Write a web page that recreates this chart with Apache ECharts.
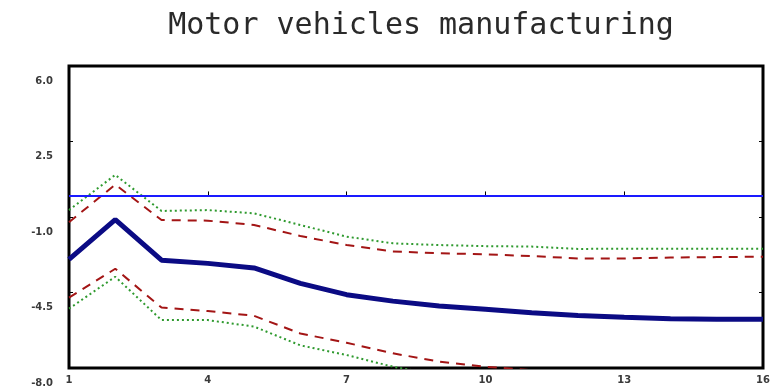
<!DOCTYPE html>
<html>
<head>
<meta charset="utf-8">
<script src="https://cdn.jsdelivr.net/npm/echarts@6/dist/echarts.min.js"></script>
<style>html,body{margin:0;padding:0;background:#fff}#c{width:773px;height:391px}</style>
</head>
<body>
<div id="c"></div>
<script>
const periods = ['1','2','3','4','5','6','7','8','9','10','11','12','13','14','15','16'];
const response = [-2.96,-1.12,-3.0,-3.15,-3.36,-4.08,-4.6,-4.9,-5.13,-5.28,-5.44,-5.57,-5.65,-5.72,-5.74,-5.74];
const upperRed = [-1.24,0.5,-1.14,-1.17,-1.37,-1.88,-2.3,-2.6,-2.68,-2.73,-2.81,-2.92,-2.92,-2.88,-2.86,-2.84];
const lowerRed = [-4.74,-3.4,-5.2,-5.36,-5.58,-6.4,-6.83,-7.32,-7.7,-7.94,-8.1,-8.25,-8.4,-8.6,-8.65,-8.66];
const upperGreen = [-0.68,0.95,-0.72,-0.68,-0.83,-1.37,-1.91,-2.22,-2.3,-2.35,-2.37,-2.48,-2.47,-2.47,-2.47,-2.47];
const lowerGreen = [-5.25,-3.77,-5.78,-5.78,-6.08,-6.95,-7.4,-7.94,-8.33,-8.59,-8.91,-9.06,-9.24,-9.44,-9.44,-9.44];
const yTicks = [6.0, 2.5, -1.0, -4.5, -8.0];
const titleText = 'Motor vehicles manufacturing';

const chart = echarts.init(document.getElementById('c'), null, {renderer: 'canvas'});
const lab = {fontFamily: 'DejaVu Sans', fontSize: 10, color: '#3a3a3a', fontWeight: 'bold'};
chart.setOption({
  animation: false,
  title: {
    text: titleText, left: 416, top: 6, textAlign: 'center',
    textStyle: {fontFamily: 'DejaVu Sans Mono', fontSize: 30, fontWeight: 'normal', color: '#2a2a2a'}
  },
  grid: {left: 69, right: 10, top: 66, bottom: 23, show: true, borderColor: '#000', borderWidth: 3,
         backgroundColor: '#fff', containLabel: false, outerBoundsMode: 'none'},
  xAxis: {
    type: 'category', data: periods, boundaryGap: false,
    axisLine: {show: false},
    axisTick: {show: true, inside: true, length: 4, interval: 2, lineStyle: {color: '#000', width: 1}},
    axisLabel: Object.assign({interval: 2, margin: 7}, lab),
    splitLine: {show: false}
  },
  yAxis: [{
    type: 'value', min: -8, max: 6,
    axisLine: {show: false},
    axisTick: {show: true, inside: true, length: 4, customValues: yTicks, lineStyle: {color: '#000'}},
    axisLabel: Object.assign({customValues: yTicks, margin: 16, verticalAlign: 'top', lineHeight: 30, formatter: v => v.toFixed(1)}, lab),
    splitLine: {show: false}
  }, {
    type: 'value', min: -8, max: 6, position: 'right',
    axisLine: {show: false},
    axisTick: {show: true, inside: true, length: 4, customValues: yTicks, lineStyle: {color: '#000'}},
    axisLabel: {show: false},
    splitLine: {show: false}
  }],
  series: [
    {type: 'line', name: 'upper90', data: upperGreen, symbol: 'none', clip: true,
     lineStyle: {color: '#2f9a2f', width: 2, type: [2, 3]}},
    {type: 'line', name: 'lower90', data: lowerGreen, symbol: 'none', clip: true,
     lineStyle: {color: '#2f9a2f', width: 2, type: [2, 3]}},
    {type: 'line', name: 'upper68', data: upperRed, symbol: 'none', clip: true,
     lineStyle: {color: '#a31515', width: 2, type: [9, 7]}},
    {type: 'line', name: 'lower68', data: lowerRed, symbol: 'none', clip: true,
     lineStyle: {color: '#a31515', width: 2, type: [9, 7]}},
    {type: 'line', name: 'response', data: response, symbol: 'none', clip: true,
     lineStyle: {color: '#0b0b84', width: 5},
     markLine: {silent: true, symbol: 'none', label: {show: false},
       lineStyle: {color: '#1a1aff', width: 2, type: 'solid'}, data: [{yAxis: 0}]}}
  ]
});
</script>
</body>
</html>
